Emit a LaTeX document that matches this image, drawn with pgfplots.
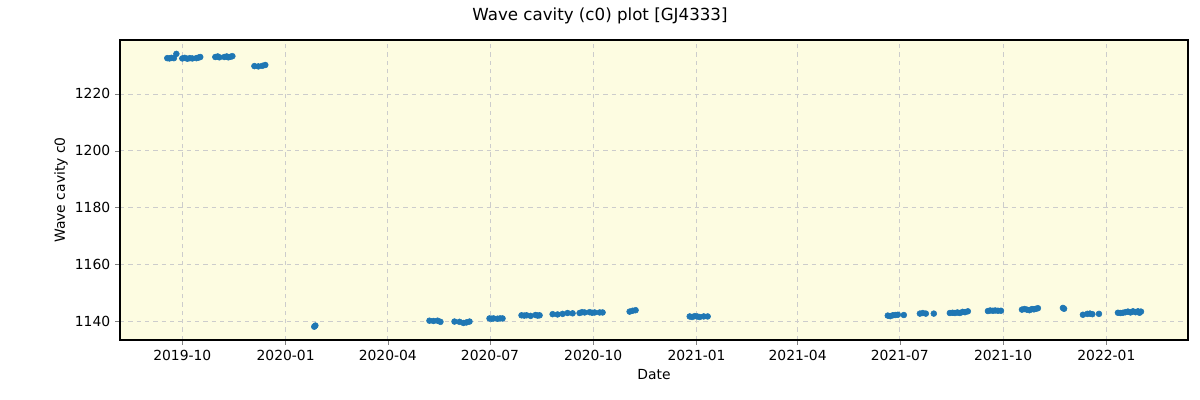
\documentclass[border=0pt]{standalone}
\usepackage{pgfplots}
\pgfplotsset{compat=1.18}
\usepackage{fontspec}
\setmainfont{DejaVu Sans}
\definecolor{bgc}{HTML}{FDFCE1}
\definecolor{pt}{HTML}{1F77B4}
\definecolor{gridc}{HTML}{CCCCCC}
\begin{document}
\begin{tikzpicture}
\useasboundingbox (-86.4pt,-43.2pt) rectangle (777.6pt,244.8pt);
\begin{axis}[
  at={(0,0)}, anchor=south west,
  scale only axis, width=768.96pt, height=216pt,
  xmin=-55.5, xmax=895.7, ymin=1133.3, ymax=1239,
  axis background/.style={fill=bgc},
  xtick={0,92,183,274,366,458,548,639,731,823},
  xticklabels={2019-10,2020-01,2020-04,2020-07,2020-10,2021-01,2021-04,2021-07,2021-10,2022-01},
  ytick={1140,1160,1180,1200,1220},
  /pgf/number format/assume math mode=true,
  /pgf/number format/1000 sep={},
  tick label style={font=\fontsize{10}{12}\selectfont},
  label style={font=\fontsize{10}{12}\selectfont},
  tick align=outside, major tick length=3.5pt,
  xtick pos=bottom, ytick pos=left,
  grid=major, major grid style={gridc, dashed, line width=0.6pt},
  axis line style={line width=0.8pt},
  xlabel={Date}, ylabel={Wave cavity c0},
  xlabel style={at={(axis description cs:0.5,0)}, anchor=center, yshift=-25.2pt},
  ylabel style={at={(axis description cs:0,0.5)}, anchor=center, rotate=0, yshift=42.5pt},
  title={Wave cavity (c0) plot [GJ4333]},
  title style={font=\fontsize{12}{14}\selectfont, at={(axis description cs:0.4494,1)}, anchor=center, yshift=11.3pt},
]
\addplot[only marks, mark=*, mark size=2.1pt, pt, mark options={draw=pt, fill=pt}] coordinates {
(-13.4,1232.6) (-11.5,1232.5) (-9.8,1232.7) (-5.3,1234.1) (-7.5,1232.6)
(0,1232.5) (2.2,1232.7) (4.5,1232.4) (6.7,1232.6) (8.9,1232.5) (12.5,1232.6) (14.5,1232.8) (16.0,1233.0)
(29.4,1233.0) (31.5,1233.2) (33.0,1232.9) (37.4,1233.0) (39.5,1233.2) (41.0,1232.9) (43.0,1233.1) (44.6,1233.3)
(64.2,1229.8) (67.7,1229.7) (71.3,1229.9) (73.9,1230.2)
(117.5,1138.0) (118.5,1138.4)
(220.1,1140.1) (223.7,1140.0) (227.3,1140.1) (229.9,1139.7)
(242.4,1139.8) (246.9,1139.7) (250.4,1139.3) (253.1,1139.5) (255.8,1139.8)
(273.6,1140.9) (275.5,1140.8) (277.2,1140.9) (280.7,1140.8) (283.0,1140.9) (285.2,1140.9)
(302.1,1142.0) (304.5,1141.9) (306.6,1142.0) (310.2,1141.8) (314.6,1142.1) (316.5,1141.9) (318.2,1142.0)
(329.8,1142.4) (334.2,1142.3) (338.7,1142.5) (343.1,1142.8) (347.6,1142.7)
(353.8,1142.8) (356.0,1143.1) (358.3,1143.0) (362.7,1143.1) (365.0,1142.9) (367.2,1143.0) (371.7,1143.0) (374.3,1143.0)
(398.4,1143.3) (401.0,1143.6) (403.7,1143.8)
(451.9,1141.6) (454.0,1141.4) (456.3,1141.7) (458.5,1141.6) (460.8,1141.4) (464.4,1141.6) (467.9,1141.6)
(628.3,1141.9) (630.5,1141.7) (632.8,1142.0) (635.0,1142.1) (637.3,1142.2) (642.6,1142.1)
(656.9,1142.6) (659.5,1142.8) (662.2,1142.6) (669.3,1142.6)
(683.6,1142.8) (686.0,1142.9) (688.1,1142.8) (690.3,1143.0) (692.5,1142.8) (695.0,1143.2) (697.0,1143.1) (699.6,1143.4)
(717.5,1143.5) (719.5,1143.7) (721.9,1143.6) (724.0,1143.7) (726.4,1143.6) (729.1,1143.6)
(747.8,1144.0) (750.0,1144.2) (752.2,1144.0) (754.5,1143.8) (756.7,1144.2) (758.5,1144.1) (760.3,1144.3) (762.0,1144.5)
(784.3,1144.6) (785.3,1144.3)
(802.1,1142.2) (806.0,1142.5) (808.4,1142.6) (810.5,1142.4) (816.4,1142.5)
(833.3,1142.9) (835.5,1142.8) (837.8,1142.9) (840.0,1143.1) (842.2,1143.3) (844.5,1143.0) (846.7,1143.4) (849.0,1143.1) (851.1,1143.4) (853.8,1143.3) (852.5,1142.9)
};
\end{axis}
\end{tikzpicture}
\end{document}
